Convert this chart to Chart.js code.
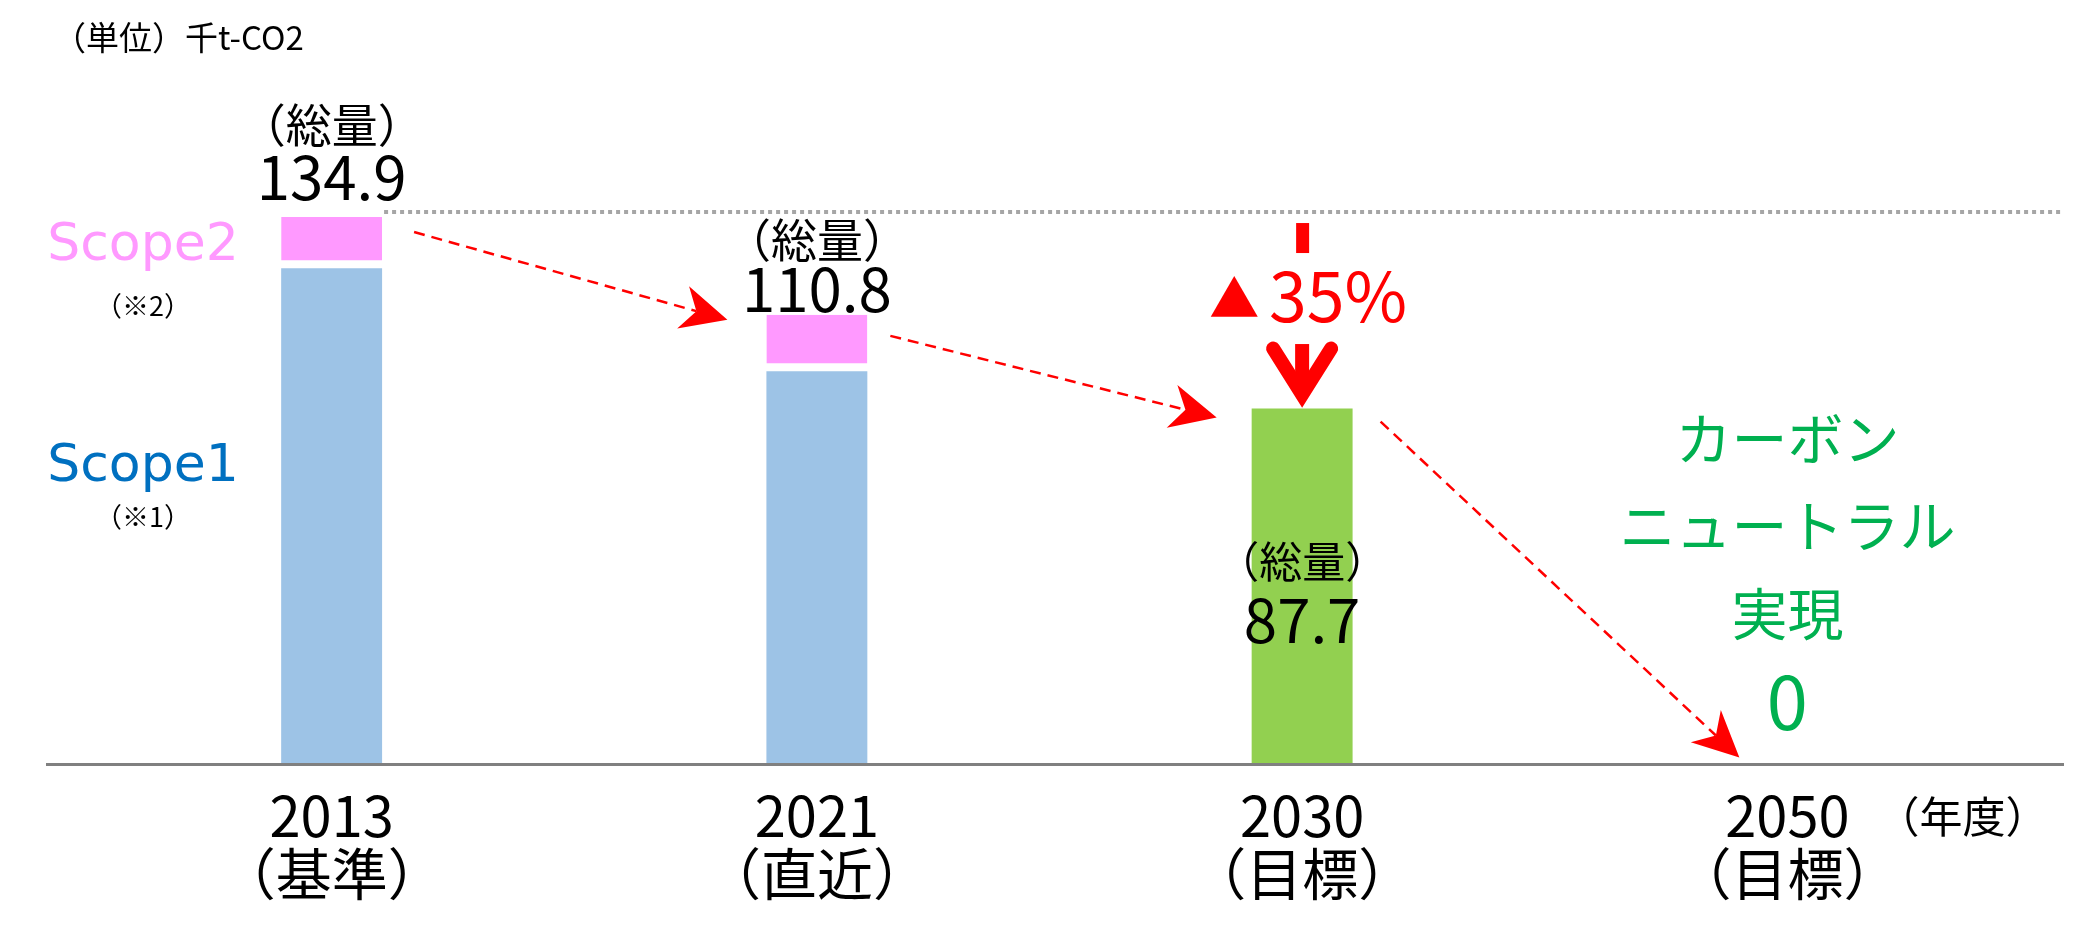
<!DOCTYPE html>
<html lang="ja">
<head>
<meta charset="utf-8">
<script src="https://cdn.jsdelivr.net/npm/chart.js@4.4.1/dist/chart.umd.min.js"></script>
<style>
  body { margin: 0; background: #fff; }
  #wrap { width: 2090px; height: 936px; position: relative; }
</style>
</head>
<body>
<div id="wrap"><canvas id="co2Chart"></canvas></div>
<script>
// data (千t-CO2)
const years = ['2013', '2021', '2030', '2050'];
const yearNotes = ['（基準）', '（直近）', '（目標）', '（目標）'];
const scope1 = [122.3, 96.9, null, null];
const scope2 = [12.6, 13.9, null, null];
const target = [null, null, 87.7, 0];
const reductionSign = '▲';
const reductionValue = '35%';
const neutralText = ['カーボン', 'ニュートラル', '実現', '0'];

const JP = '"Noto Sans CJK JP", "Noto Sans", sans-serif';
const RED = '#FF0000';

function txt(ctx, s, x, y, size, color, align, family) {
  ctx.font = size + 'px ' + (family || JP);
  ctx.fillStyle = color || '#000';
  ctx.textAlign = align || 'center';
  ctx.textBaseline = 'middle';
  ctx.fillText(s, x, y);
}

// dashed arrow with a stealth head
function dashArrow(ctx, x1, y1, x2, y2) {
  const dx = x2 - x1, dy = y2 - y1;
  const len = Math.hypot(dx, dy);
  const ux = dx / len, uy = dy / len;
  const nx = -uy, ny = ux;
  const L = 46, W = 22;
  ctx.save();
  ctx.strokeStyle = RED;
  ctx.lineWidth = 2.5;
  ctx.setLineDash([11, 7]);
  ctx.beginPath();
  ctx.moveTo(x1, y1);
  ctx.lineTo(x2 - ux * L * 0.7, y2 - uy * L * 0.7);
  ctx.stroke();
  ctx.setLineDash([]);
  ctx.fillStyle = RED;
  ctx.beginPath();
  ctx.moveTo(x2, y2);
  ctx.lineTo(x2 - ux * L + nx * W, y2 - uy * L + ny * W);
  ctx.lineTo(x2 - ux * L * 0.7, y2 - uy * L * 0.7);
  ctx.lineTo(x2 - ux * L - nx * W, y2 - uy * L - ny * W);
  ctx.closePath();
  ctx.fill();
  ctx.restore();
}

const overlay = {
  id: 'overlay',
  afterDatasetsDraw(chart) {
    const ctx = chart.ctx;
    const area = chart.chartArea;
    const xs = chart.scales.x, ys = chart.scales.y;
    const b1 = chart.getDatasetMeta(0).data;
    const b2 = chart.getDatasetMeta(1).data;
    const bt = chart.getDatasetMeta(2).data;
    const base = ys.getPixelForValue(0);
    const half = b1[0].width / 2;
    const totals = [0, 1].map(i => scope1[i] + scope2[i]);

    ctx.save();
    // axis line
    ctx.strokeStyle = '#808080';
    ctx.lineWidth = 3;
    ctx.beginPath();
    ctx.moveTo(area.left - 43, base);
    ctx.lineTo(area.right + 34, base);
    ctx.stroke();

    // unit
    txt(ctx, '（単位）千t-CO2', 53, 37, 33, '#000', 'left');

    // base year level (dotted)
    const top0 = ys.getPixelForValue(totals[0]);
    const dotY = top0 - 5;
    ctx.strokeStyle = '#A6A6A6';
    ctx.lineWidth = 4;
    ctx.setLineDash([4, 4]);
    ctx.beginPath();
    ctx.moveTo(b2[0].x + half + 2, dotY);
    ctx.lineTo(area.right + 34, dotY);
    ctx.stroke();
    ctx.setLineDash([]);

    // totals above stacked bars
    const valOff = [40, 26], capOff = [93, 75];
    totals.forEach((t, i) => {
      const top = ys.getPixelForValue(t);
      txt(ctx, '（総量）', b1[i].x, top - capOff[i], 46);
      txt(ctx, t.toFixed(1), b1[i].x, top - valOff[i], 60);
    });
    // total inside target bar
    txt(ctx, '（総量）', bt[2].x, base - 203, 43);
    txt(ctx, target[2].toFixed(1), bt[2].x, base - 144, 60);

    // scope labels
    const lx = area.left + 54;
    const mid2 = (b2[0].y + b2[0].base) / 2;
    txt(ctx, 'Scope2', lx, mid2 + 4, 52, '#FF99FF', 'center', '"DejaVu Sans", sans-serif');
    txt(ctx, '（※2）', lx, mid2 + 63, 27);
    txt(ctx, 'Scope1', lx, base - 297, 52, '#0070C0', 'center', '"DejaVu Sans", sans-serif');
    txt(ctx, '（※1）', lx, base - 248, 27);

    // trend arrows
    const top1 = ys.getPixelForValue(totals[1]);
    const top2 = bt[2].y;
    dashArrow(ctx, b2[0].x + half + 32, top0 + 15, b1[1].x - half - 39, top1 + 5);
    dashArrow(ctx, b2[1].x + half + 23, top1 + 21, bt[2].x - half - 35, top2 + 9);
    dashArrow(ctx, bt[2].x + half + 28, top2 + 13, xs.getPixelForValue(3) - 48, base - 7);

    // reduction arrow
    const cx = bt[2].x;
    ctx.fillStyle = RED;
    ctx.fillRect(cx - 6, dotY + 11, 13, 30);
    txt(ctx, reductionSign, cx - 68, dotY + 86, 50, RED);
    txt(ctx, reductionValue, cx + 36, dotY + 84, 68, RED);
    const tipY = top2 - 2;
    ctx.strokeStyle = RED;
    ctx.lineWidth = 14;
    ctx.beginPath();
    ctx.moveTo(cx, dotY + 132);
    ctx.lineTo(cx, tipY - 24);
    ctx.stroke();
    ctx.lineCap = 'round';
    ctx.lineJoin = 'miter';
    ctx.beginPath();
    ctx.moveTo(cx - 29, tipY - 58);
    ctx.lineTo(cx, tipY - 12);
    ctx.lineTo(cx + 29, tipY - 58);
    ctx.stroke();

    // 2050 target text
    const x50 = xs.getPixelForValue(3);
    const offs = [326, 239, 151, 63];
    neutralText.forEach((s, i) => {
      txt(ctx, s, x50, base - offs[i], i === 3 ? 74 : 56, '#00B050');
    });
    txt(ctx, '（年度）', x50 + 175, 817, 43);
    ctx.restore();
  }
};

new Chart(document.getElementById('co2Chart'), {
  type: 'bar',
  data: {
    labels: years.map((y, i) => [y, yearNotes[i]]),
    datasets: [
      { label: 'Scope1', data: scope1, backgroundColor: '#9DC3E6' },
      { label: 'Scope2', data: scope2, backgroundColor: '#FF99FF',
        borderColor: '#FFFFFF', borderSkipped: false,
        borderWidth: { top: 0, left: 0, right: 0, bottom: 8 } },
      { label: '目標', data: target, backgroundColor: '#92D050' }
    ]
  },
  options: {
    responsive: true,
    maintainAspectRatio: false,
    animation: false,
    barPercentage: 0.208,
    categoryPercentage: 1,
    layout: { padding: { top: 34, left: 89, right: 60, bottom: 11 } },
    plugins: { legend: { display: false }, tooltip: { enabled: false } },
    scales: {
      x: {
        stacked: true,
        grid: { display: false, drawTicks: false },
        border: { display: false },
        ticks: { color: '#000', padding: 22, font: { family: JP, size: 56, lineHeight: 1.04 } }
      },
      y: { stacked: true, display: false, min: 0, max: 180 }
    }
  },
  plugins: [overlay]
});
</script>
</body>
</html>
